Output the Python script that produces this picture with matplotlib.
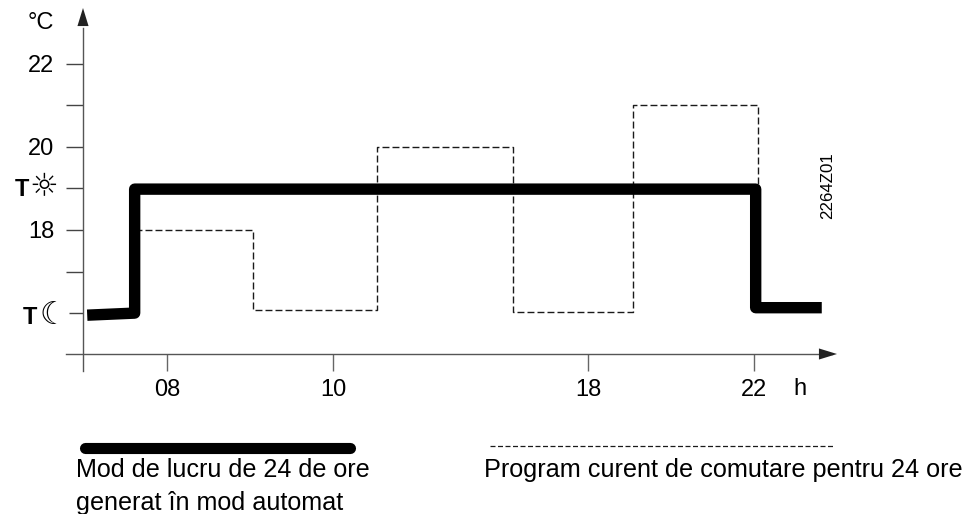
import numpy as np
import matplotlib
matplotlib.use("Agg")
import matplotlib.pyplot as plt
from matplotlib.lines import Line2D

plt.rcParams["font.family"] = ["Liberation Sans", "DejaVu Sans"]

# x axis is not to scale: hour -> pixel position knots
hour_knots = [0, 6, 8, 10, 18, 22, 26]
pixel_knots = [0, 83, 167, 333, 588, 754, 978]

x_ticks = [8, 10, 18, 22]
x_labels = ["08", "10", "18", "22"]
y_ticks = [22, 21, 20, 19, 18, 17, 16]
y_labels = ["22", "", "20", "", "18", "", ""]

# automatically generated 24h mode (thick line)
auto_hours = [6.1, 7.23, 7.23, 22.03, 22.03, 23.21]
auto_temps = [15.95, 16.0, 18.98, 18.98, 16.13, 16.13]

# current 24h switching program (dashed line)
prog_hours = [7.23, 9.04, 9.04, 11.38, 11.38, 15.65, 15.65, 19.08, 19.08, 22.07, 22.07]
prog_temps = [18, 18, 16.07, 16.07, 20, 20, 16.03, 16.03, 21, 21, 19]


def forward(h):
    return np.interp(h, hour_knots, pixel_knots)


def inverse(p):
    return np.interp(p, pixel_knots, hour_knots)


def fx(px):
    return px / 978


def fy(py):
    return 1 - py / 514


fig = plt.figure(figsize=(9.78, 5.14), dpi=100)
ax = fig.add_axes([0, 0, 1, 1])
ax.patch.set_visible(False)
ax.set_xscale("function", functions=(forward, inverse))
ax.set_xlim(0, 26)
ax.set_ylim(22 - 450.5 / 41.6, 22 + 63.5 / 41.6)

ax.plot(prog_hours, prog_temps, color="#1a1a1a", lw=1, dashes=(5, 2.2))
ax.plot(auto_hours, auto_temps, color="black", lw=8.2, solid_joinstyle="round", solid_capstyle="butt")

for name in ["top", "right"]:
    ax.spines[name].set_visible(False)
ax.spines["left"].set_position(("data", 6))
ax.spines["bottom"].set_position(("data", 15.02))
ax.spines["left"].set_bounds(14.61, 22.85)
ax.spines["bottom"].set_bounds(4.77, 23.4)
ax.spines["left"].set_color("#555555")
ax.spines["bottom"].set_color("#555555")
ax.spines["left"].set_linewidth(1)
ax.spines["bottom"].set_linewidth(1)

ax.set_xticks(x_ticks)
ax.set_xticklabels(x_labels, fontsize=17)
ax.set_yticks(y_ticks)
ax.set_yticklabels(y_labels, fontsize=17)
ax.minorticks_off()
ax.tick_params(axis="x", direction="out", length=12, width=1, color="#666666", pad=6)
ax.tick_params(axis="y", direction="out", length=12, width=1, color="#444444", pad=8.5)
ticks = ax.yaxis.get_major_ticks()
ticks[5].tick1line.set_linestyle((0, (4, 2)))
ticks[6].tick1line.set_linestyle((0, (5, 2, 1.5, 2)))
ticks[6].tick1line.set_markersize(10)

# axis arrow heads
arrow = dict(arrowstyle="-|>,head_width=0.4,head_length=1.3", color="#222222", lw=0, shrinkA=0, shrinkB=0)
ax.annotate("", xy=(fx(83), fy(8)), xytext=(fx(83), fy(30)), xycoords="figure fraction", textcoords="figure fraction", arrowprops=arrow)
ax.annotate("", xy=(fx(837), fy(354)), xytext=(fx(815), fy(354)), xycoords="figure fraction", textcoords="figure fraction", arrowprops=arrow)

fig.text(fx(54), fy(23), "°C", fontsize=17, ha="right", va="center")
fig.text(fx(800), fy(389), "h", fontsize=17, ha="center", va="center")
fig.text(fx(828), fy(186), "2264Z01", fontsize=12.2, rotation=90, ha="center", va="center")

# setpoint symbols
fig.text(fx(29), fy(190), "T", fontsize=17, fontweight="bold", ha="right", va="center")
fig.text(fx(29), fy(188), "\u263c", fontsize=23, fontweight="bold", ha="left", va="center", family="DejaVu Sans")
fig.text(fx(37), fy(317), "T", fontsize=17, fontweight="bold", ha="right", va="center")
fig.text(fx(39), fy(315), "\u263e", fontsize=22, ha="left", va="center", family="DejaVu Sans")

# legend
fig.add_artist(Line2D([fx(85), fx(350)], [fy(447.5), fy(447.5)], color="black", lw=8, solid_capstyle="round"))
fig.add_artist(Line2D([fx(490), fx(835)], [fy(446), fy(446)], color="#1a1a1a", lw=0.9, dashes=(4, 2)))
fig.text(fx(76), fy(470), "Mod de lucru de 24 de ore", fontsize=18.1, ha="left", va="center")
fig.text(fx(76), fy(503), "generat în mod automat", fontsize=18.1, ha="left", va="center")
fig.text(fx(484), fy(470), "Program curent de comutare pentru 24 ore", fontsize=18.2, ha="left", va="center")

fig.savefig("out.png", dpi=100)
